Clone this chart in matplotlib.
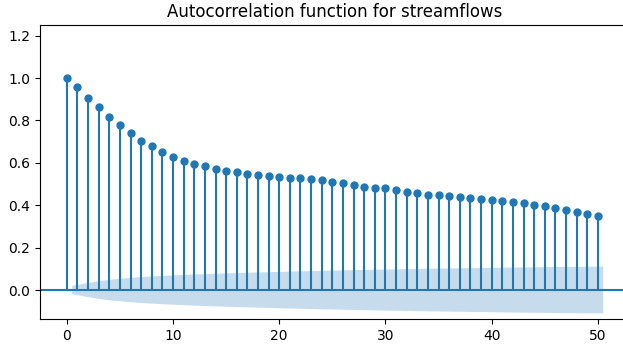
"""
ACF stem plot for the streamflow series (statsmodels plot_acf look).
"""

import numpy as np
import matplotlib
matplotlib.use("Agg")
import matplotlib.pyplot as plt

# autocorrelation at lags 0..50
lags = np.arange(0, 51)
acf_vals = np.array([
    1.000, 0.958, 0.907, 0.862, 0.816, 0.777, 0.741, 0.703, 0.678, 0.651,
    0.627, 0.610, 0.594, 0.583, 0.572, 0.560, 0.557, 0.546, 0.542, 0.538,
    0.533, 0.528, 0.528, 0.525, 0.520, 0.509, 0.506, 0.497, 0.487, 0.483,
    0.479, 0.470, 0.462, 0.458, 0.447, 0.447, 0.442, 0.439, 0.434, 0.431,
    0.426, 0.421, 0.417, 0.409, 0.402, 0.395, 0.385, 0.376, 0.368, 0.357,
    0.347,
])
n_obs = 9900  # sample size, estimated from the width of the band
z_crit = 1.96

# Bartlett confidence band, same as statsmodels
varacf = np.ones(len(acf_vals)) / n_obs
varacf[0] = 0
varacf[2:] *= 1 + 2 * np.cumsum(acf_vals[1:-1] ** 2)
band = z_crit * np.sqrt(varacf)

fig = plt.figure(figsize=(6.23, 3.46), dpi=100)
ax = fig.add_axes([40 / 623, 26.7 / 346, 590 / 623, 294.3 / 346])

ax.vlines(lags, [0], acf_vals)
ax.axhline()
ax.plot(lags, acf_vals, marker="o", markersize=5, linestyle="None")
ax.set_title("Autocorrelation function for streamflows")

band_lags = lags[1:].astype(float)
band_lags[0] -= 0.5
band_lags[-1] += 0.5
ax.fill_between(band_lags, -band[1:], band[1:], alpha=0.25)

ax.set_ylim(1.25 * min(acf_vals.min(), -band.max()), 1.25 * acf_vals.max())
ax.set_xlim(-2.525, 53.025)
ax.set_yticks([0.0, 0.2, 0.4, 0.6, 0.8, 1.0, 1.2])
ax.set_xticks([0, 10, 20, 30, 40, 50])

fig.savefig("out.png", dpi=100)
